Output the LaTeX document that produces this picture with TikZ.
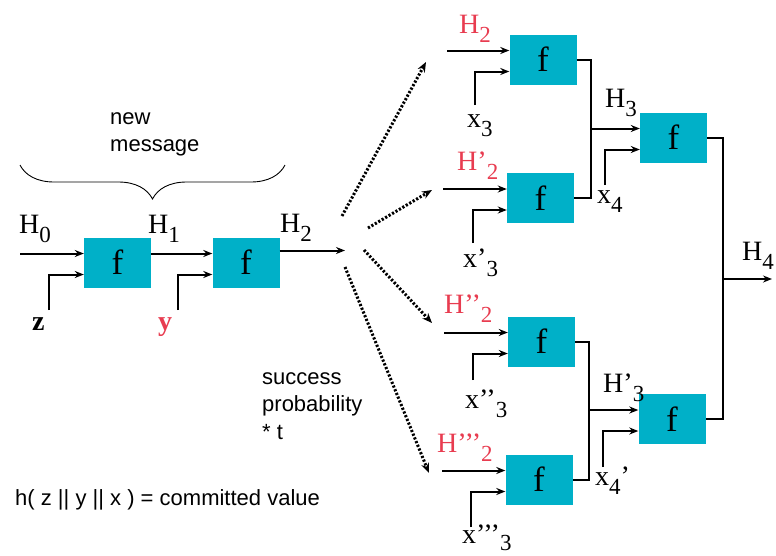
\documentclass[tikz,border=0pt]{standalone}
\usepackage{fontspec}
\setmainfont{Liberation Serif}
\newfontfamily\arialf{Liberation Sans}
\usetikzlibrary{calc,decorations.pathreplacing,arrows.meta}
\definecolor{boxc}{RGB}{0,176,200}
\definecolor{redl}{RGB}{232,60,80}
\newcommand{\sbx}[1]{\raisebox{-9pt}{\fontsize{23}{23}\selectfont #1}}
\begin{document}
\begin{tikzpicture}[x=1pt,y=-1pt,
 fbox/.style={fill=boxc,minimum width=67pt,minimum height=50pt,inner sep=0pt,font=\fontsize{35}{35}\selectfont},
 arr/.style={-{Stealth[length=9pt,width=7pt]},line width=2pt},
 ln/.style={line width=2pt},
 dotarr/.style={-{Stealth[length=10pt,width=8pt]},line width=3pt,dash pattern=on 2.2pt off 1.8pt},
 lbl/.style={font=\fontsize{28}{28}\selectfont,inner sep=0pt,anchor=base west},
 rlbl/.style={lbl,text=redl},
 sans/.style={font=\arialf\fontsize{22}{27.5}\selectfont,align=left,inner sep=0pt},
]
\useasboundingbox (0,0) rectangle (776,555);

% boxes
\node[fbox] (b1) at (117.5,262.5) {f};
\node[fbox] (b2) at (246,262.5) {f};
\node[fbox] (bA) at (543,59.5) {f};
\node[fbox] (bB) at (540.5,198) {f};
\node[fbox] (bC) at (541.5,341.5) {f};
\node[fbox] (bD) at (539,479.5) {f};
\node[fbox] (bE) at (673.5,137.5) {f};
\node[fbox] (bF) at (672,419) {f};

% left chain
\coordinate (h0s) at (20,0);
\coordinate (zs) at (49,310);
\coordinate (ys) at (178,310);
\coordinate (h2e) at (345,0);
\draw[arr] (h0s |- {$(b1.west)+(0,-9)$}) -- ($(b1.west)+(0,-9)$);
\draw[arr] (zs) |- ($(b1.west)+(0,12)$);
\draw[arr] ($(b1.east)+(0,-9)$) -- ($(b2.west)+(0,-9)$);
\draw[arr] (ys) |- ($(b2.west)+(0,12)$);
\draw[arr] ($(b2.east)+(0,-12)$) -- (h2e |- {$(b2.east)+(0,-12)$});

\node[lbl] (lh0) at (19,233) {H\sbx{0}};
\node[lbl] (lh1) at (148,233) {H\sbx{1}};
\node[lbl] (lh2) at (280,232) {H\sbx{2}};
\node[lbl,font=\fontsize{28}{28}\selectfont\bfseries] (lz) at (32,330) {z};
\node[rlbl,font=\fontsize{28}{28}\selectfont\bfseries] (ly) at (158,330) {y};

% brace and texts
\coordinate (brl) at (20,165);
\coordinate (brr) at (285,165);
\draw[line width=0.9pt,decorate,decoration={brace,amplitude=34pt,mirror}] (brl) -- (brr);
\node[sans,anchor=north west] (nm) at (110,112) {new\\message};
\node[sans,anchor=north west] (sp) at (262,372) {success\\probability\\* t};
\node[sans,anchor=base west] (hz) at (15,505) {h( z || y || x ) = committed value};

% dotted fan
\coordinate (d1s) at (342,216); \coordinate (d1e) at (426,62);
\coordinate (d2s) at (368,228); \coordinate (d2e) at (432,190);
\coordinate (d3s) at (364,250); \coordinate (d3e) at (432,323);
\coordinate (d4s) at (345,267); \coordinate (d4e) at (429,473);
\draw[dotarr] (d1s) -- (d1e);
\draw[dotarr] (d2s) -- (d2e);
\draw[dotarr] (d3s) -- (d3e);
\draw[dotarr] (d4s) -- (d4e);

% right inputs
\coordinate (ia) at (447,0); \coordinate (xa) at (475,105);
\coordinate (ib) at (443,0); \coordinate (xb) at (473,243);
\coordinate (ic) at (444,0); \coordinate (xc) at (473,380);
\coordinate (id) at (442,0); \coordinate (xd) at (471,527);
\draw[arr] (ia |- {$(bA.west)+(0,-9)$}) -- ($(bA.west)+(0,-9)$);
\draw[arr] (xa) |- ($(bA.west)+(0,12)$);
\draw[arr] (ib |- {$(bB.west)+(0,-9)$}) -- ($(bB.west)+(0,-9)$);
\draw[arr] (xb) |- ($(bB.west)+(0,12)$);
\draw[arr] (ic |- {$(bC.west)+(0,-9)$}) -- ($(bC.west)+(0,-9)$);
\draw[arr] (xc) |- ($(bC.west)+(0,12)$);
\draw[arr] (id |- {$(bD.west)+(0,-9)$}) -- ($(bD.west)+(0,-9)$);
\draw[arr] (xd) |- ($(bD.west)+(0,12)$);

\node[rlbl] (lH2) at (459,33) {H\sbx{2}};
\node[rlbl] (lH2a) at (457,170) {H’\sbx{2}};
\node[rlbl] (lH2b) at (444,313) {H’’\sbx{2}};
\node[rlbl] (lH2c) at (437,452) {H’’’\sbx{2}};
\node[lbl] (lx3) at (467,127) {x\sbx{3}};
\node[lbl] (lx3a) at (463,267) {x’\sbx{3}};
\node[lbl] (lx3b) at (465,408) {x’’\sbx{3}};
\node[lbl] (lx3c) at (462,543) {x’’’\raisebox{-7pt}{\fontsize{23}{23}\selectfont 3}};

% merges
\coordinate (j1) at (591,0);
\coordinate (j2) at (589,0);
\coordinate (j3) at (723,0);
\coordinate (x4s) at (605,185);
\coordinate (x4t) at (603,467);
\coordinate (h4e) at (772,279);
\draw[ln] (bA.east) -| (j1 |- bB.east) -- (bB.east);
\draw[arr] (j1 |- {$(bE.west)+(0,-9)$}) -- ($(bE.west)+(0,-9)$);
\draw[arr] (x4s) |- ($(bE.west)+(0,12)$);
\draw[ln] (bC.east) -| (j2 |- bD.east) -- (bD.east);
\draw[arr] (j2 |- {$(bF.west)+(0,-9)$}) -- ($(bF.west)+(0,-9)$);
\draw[arr] (x4t) |- ($(bF.west)+(0,12)$);
\draw[ln] (bE.east) -| (j3 |- bF.east) -- (bF.east);
\draw[arr] (j3 |- h4e) -- (h4e);

\node[lbl] (lH3) at (605,107) {H\sbx{3}};
\node[lbl] (lx4) at (597,203) {x\sbx{4}};
\node[lbl] (lH3a) at (603,392) {H’\sbx{3}};
\node[lbl] (lx4a) at (595,485) {x\sbx{4}’};
\node[lbl] (lH4) at (742,260) {H\sbx{4}};
\end{tikzpicture}
\end{document}
